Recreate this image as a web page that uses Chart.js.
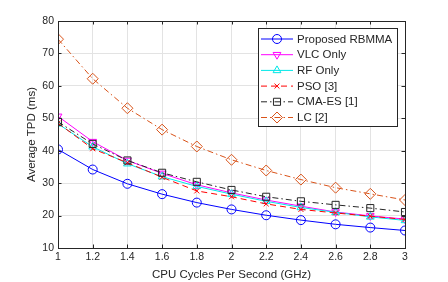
<!DOCTYPE html>
<html>
<head>
<meta charset="utf-8">
<script src="https://cdn.jsdelivr.net/npm/chart.js@4/dist/chart.umd.min.js"></script>
<style>
  html, body { margin: 0; padding: 0; background: #fff; }
  #wrap { width: 448px; height: 282px; }
</style>
</head>
<body>
<div id="wrap"><canvas id="tpd-chart" width="448" height="282"></canvas></div>
<script>
// CPU cycles per second (GHz)
var cpuGhz = [1, 1.2, 1.4, 1.6, 1.8, 2, 2.2, 2.4, 2.6, 2.8, 3];
var yTicks = [10, 20, 30, 40, 50, 60, 70, 80];

// average TPD (ms) per method
var proposedRbmma = [40.4, 34.2, 29.8, 26.6, 24.0, 21.9, 20.1, 18.6, 17.3, 16.3, 15.4];
var vlcOnly       = [50.6, 42.8, 37.0, 33.0, 29.5, 27.0, 24.8, 22.9, 21.1, 19.9, 18.9];
var rfOnly        = [48.3, 41.2, 36.0, 32.0, 29.0, 26.6, 24.4, 22.5, 21.0, 19.6, 18.5];
var pso           = [48.5, 40.6, 36.3, 31.8, 27.6, 25.8, 23.6, 21.9, 20.8, 19.8, 18.8];
var cmaEs         = [48.9, 42.1, 37.0, 33.2, 30.4, 27.9, 25.8, 24.4, 23.3, 22.3, 21.1];
var lc            = [74.4, 62.2, 53.1, 46.5, 41.3, 37.2, 33.9, 31.1, 28.6, 26.7, 24.8];

var FONT = '"Liberation Sans", Arial, sans-serif';
var TEXT = '#262626';

function pts(vals) {
    return vals.map(function(v, i) { return { x: cpuGhz[i], y: v }; });
}

function series(label, vals, color, style, radius, dash, rot, order) {
    return {
        label: label,
        data: pts(vals),
        borderColor: color,
        backgroundColor: 'transparent',
        pointBorderColor: color,
        pointBackgroundColor: 'transparent',
        pointStyle: style,
        pointRadius: radius,
        pointRotation: rot || 0,
        pointBorderWidth: 1,
        borderWidth: 1,
        borderDash: dash || [],
        tension: 0,
        fill: false,
        order: order
    };
}

var datasets = [
    series('Proposed RBMMA', proposedRbmma, '#0000ff', 'circle', 4.5, [], 0, 6),
    series('VLC Only', vlcOnly, '#ff00ff', 'triangle', 4.5, [], 180, 5),
    series('RF Only', rfOnly, '#00e8e8', 'triangle', 4.5, [], 0, 4),
    series('PSO [3]', pso, '#ff0000', 'crossRot', 3.5, [6, 4], 0, 3),
    series('CMA-ES [1]', cmaEs, '#262626', 'rect', 5, [6, 3, 1.5, 3], 0, 2),
    series('LC [2]', lc, '#d95319', 'rectRot', 5.5, [6, 3, 1.5, 3], 0, 1)
];

// box, inward ticks and in-plot legend like the original figure
var matlabAxes = {
    id: 'matlabAxes',
    afterDraw: function(chart) {
        var ctx = chart.ctx;
        var a = chart.chartArea;
        var xs = chart.scales.x, ys = chart.scales.y;
        ctx.save();
        ctx.strokeStyle = TEXT;
        ctx.lineWidth = 1;
        ctx.beginPath();
        cpuGhz.forEach(function(v) {
            var px = Math.round(xs.getPixelForValue(v)) + 0.5;
            ctx.moveTo(px, a.bottom); ctx.lineTo(px, a.bottom - 3.5);
            ctx.moveTo(px, a.top); ctx.lineTo(px, a.top + 3.5);
        });
        yTicks.forEach(function(v) {
            var py = Math.round(ys.getPixelForValue(v)) + 0.5;
            ctx.moveTo(a.left, py); ctx.lineTo(a.left + 3.5, py);
            ctx.moveTo(a.right, py); ctx.lineTo(a.right - 3.5, py);
        });
        ctx.stroke();
        ctx.strokeRect(Math.round(a.left) + 0.5, Math.round(a.top) + 0.5,
            Math.round(a.right - a.left), Math.round(a.bottom - a.top));

        // legend
        var lx = 258.5, ly = 28.5, lw = 139, lh = 98;
        ctx.fillStyle = '#fff';
        ctx.fillRect(lx, ly, lw, lh);
        ctx.strokeStyle = TEXT;
        ctx.strokeRect(lx, ly, lw, lh);
        ctx.font = '11.5px ' + FONT;
        ctx.textBaseline = 'middle';
        datasets.forEach(function(ds, i) {
            var cy = 39 + i * 15.7;
            ctx.save();
            ctx.strokeStyle = ds.borderColor;
            ctx.lineWidth = 1;
            ctx.setLineDash(ds.borderDash);
            ctx.beginPath();
            ctx.moveTo(261, cy); ctx.lineTo(293, cy);
            ctx.stroke();
            ctx.restore();
            if (Chart.helpers && Chart.helpers.drawPoint) {
                ctx.save();
                ctx.strokeStyle = ds.pointBorderColor;
                ctx.fillStyle = 'transparent';
                ctx.lineWidth = 1;
                ctx.setLineDash([]);
                Chart.helpers.drawPoint(ctx, {
                    pointStyle: ds.pointStyle,
                    radius: ds.pointRadius,
                    rotation: ds.pointRotation,
                    borderWidth: 1
                }, 277, cy);
                ctx.restore();
            }
            ctx.fillStyle = TEXT;
            ctx.fillText(ds.label, 297, cy + 0.5);
        });
        ctx.restore();
    }
};

new Chart(document.getElementById('tpd-chart').getContext('2d'), {
    type: 'line',
    data: { datasets: datasets },
    options: {
        responsive: false,
        animation: false,
        layout: { padding: { top: 21, right: 43, left: 0, bottom: 0 } },
        plugins: { legend: { display: false }, tooltip: { enabled: false } },
        scales: {
            x: {
                type: 'linear',
                min: 1, max: 3,
                afterBuildTicks: function(scale) {
                    scale.ticks = cpuGhz.map(function(v) { return { value: v }; });
                },
                afterFit: function(scale) { scale.height = 34; },
                grid: { color: '#e3e3e3', drawTicks: false },
                border: { color: TEXT },
                ticks: {
                    color: TEXT, padding: 3, maxRotation: 0, autoSkip: false,
                    font: { family: FONT, size: 10.5 },
                    callback: function(v) { return String(Math.round(v * 10) / 10); }
                },
                title: {
                    display: true, text: 'CPU Cycles Per Second (GHz)', color: TEXT,
                    font: { family: FONT, size: 11.5 }, padding: { top: 0, bottom: 0 }
                }
            },
            y: {
                min: 10, max: 80,
                afterBuildTicks: function(scale) {
                    scale.ticks = yTicks.map(function(v) { return { value: v }; });
                },
                afterFit: function(scale) { scale.width = 58; },
                grid: { color: '#e3e3e3', drawTicks: false },
                border: { color: TEXT },
                ticks: { color: TEXT, padding: 4, font: { family: FONT, size: 10.5 } },
                title: {
                    display: true, text: 'Average TPD (ms)', color: TEXT,
                    font: { family: FONT, size: 11.5 }, padding: { top: 25, bottom: 0 }
                }
            }
        }
    },
    plugins: [matlabAxes]
});
</script>
</body>
</html>
